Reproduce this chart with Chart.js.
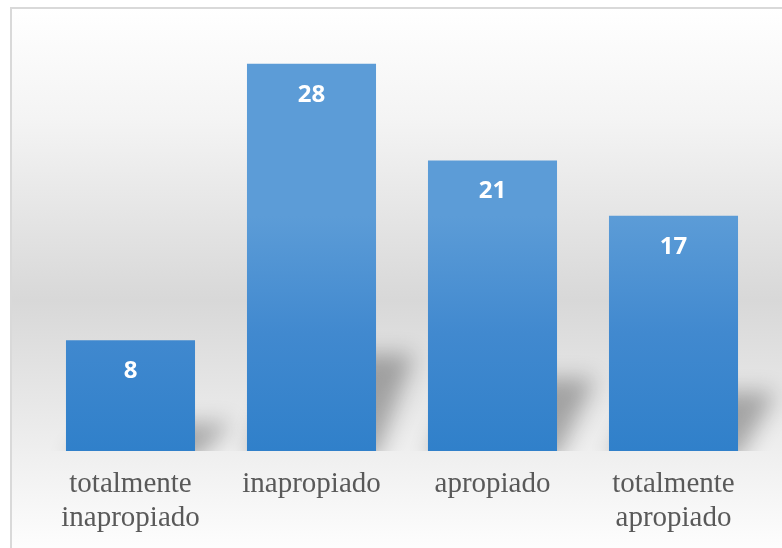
<!DOCTYPE html>
<html>
<head>
<meta charset="utf-8">
<script src="https://cdn.jsdelivr.net/npm/chart.js@4/dist/chart.umd.min.js"></script>
<style>
  html, body { margin: 0; padding: 0; background: #ffffff; }
  canvas { display: block; }
</style>
</head>
<body>
<canvas id="chart" width="782" height="548"></canvas>
<script>
// data
const categories = [
    ['totalmente', 'inapropiado'],
    'inapropiado',
    'apropiado',
    ['totalmente', 'apropiado']
];
const values = [8, 28, 21, 17];
const axisMax = 30;

// background box with grey band in the middle
const backgroundPlugin = {
    id: 'bgBox',
    beforeDraw(chart) {
        const ctx = chart.ctx;
        const g = ctx.createLinearGradient(0, 7, 0, 560);
        g.addColorStop(0, '#ffffff');
        g.addColorStop(0.2, '#f4f4f4');
        g.addColorStop(0.53, '#d8d8d8');
        g.addColorStop(0.83, '#f1f1f1');
        g.addColorStop(1, '#ffffff');
        ctx.save();
        ctx.fillStyle = '#ffffff';
        ctx.fillRect(0, 0, chart.width, chart.height);
        ctx.fillStyle = g;
        ctx.fillRect(11, 8, chart.width, chart.height);
        ctx.strokeStyle = '#d9d9d9';
        ctx.lineWidth = 2;
        ctx.strokeRect(11, 8, chart.width + 10, chart.height + 10);
        ctx.restore();
    }
};

// skewed soft shadow behind each bar + per-bar gradient fill
const shadowPlugin = {
    id: 'barShadow',
    beforeDatasetsDraw(chart) {
        const ctx = chart.ctx;
        const area = chart.chartArea;
        const bars = chart.getDatasetMeta(0).data;
        ctx.save();
        ctx.beginPath();
        ctx.rect(0, 0, chart.width, area.bottom);
        ctx.clip();
        const off = 5000;
        ctx.shadowColor = 'rgba(0,0,0,0.3)';
        ctx.shadowBlur = 22;
        ctx.shadowOffsetX = off;
        ctx.fillStyle = '#000000';
        bars.forEach(bar => {
            const h = bar.base - bar.y;
            const xl = bar.x - bar.width / 2 - off;
            const xr = bar.x + bar.width / 2 - off;
            const top = bar.base - h * 0.25;
            const dx = 38;
            ctx.beginPath();
            ctx.moveTo(xl, bar.base + 8);
            ctx.lineTo(xr, bar.base + 8);
            ctx.lineTo(xr + dx, top);
            ctx.lineTo(xl + dx, top);
            ctx.closePath();
            ctx.fill();
        });
        ctx.restore();

        bars.forEach(bar => {
            const g = ctx.createLinearGradient(0, bar.y, 0, bar.base);
            g.addColorStop(0, '#5c9cd7');
            g.addColorStop(0.5, '#4189cf');
            g.addColorStop(1, '#3080ca');
            bar.options.backgroundColor = g;
        });
    }
};

// value labels inside the bars
const valueLabels = {
    id: 'valueLabels',
    afterDatasetsDraw(chart) {
        const ctx = chart.ctx;
        ctx.save();
        ctx.fillStyle = '#ffffff';
        ctx.font = 'bold 24px "Open Sans", sans-serif';
        ctx.textAlign = 'center';
        ctx.textBaseline = 'middle';
        chart.getDatasetMeta(0).data.forEach((bar, i) => {
            ctx.fillText(String(values[i]), bar.x, bar.y + 31);
        });
        ctx.restore();
    }
};

new Chart(document.getElementById('chart').getContext('2d'), {
    type: 'bar',
    data: {
        labels: categories,
        datasets: [{
            data: values,
            backgroundColor: '#4a90d0',
            borderWidth: 0,
            categoryPercentage: 0.713,
            barPercentage: 1
        }]
    },
    options: {
        responsive: false,
        devicePixelRatio: 1,
        animation: false,
        layout: { padding: { left: 40, right: 18, top: 36, bottom: 0 } },
        plugins: {
            legend: { display: false },
            tooltip: { enabled: false }
        },
        scales: {
            y: {
                display: false,
                min: 0,
                max: axisMax,
                afterFit(axis) { axis.width = 0; }
            },
            x: {
                grid: { display: false, drawTicks: false },
                border: { display: false },
                ticks: {
                    color: '#595959',
                    padding: 17,
                    maxRotation: 0,
                    autoSkip: false,
                    font: { family: '"Liberation Serif", "Times New Roman", serif', size: 29, lineHeight: 1.15 }
                },
                afterFit(axis) { axis.height = 97; }
            }
        }
    },
    plugins: [backgroundPlugin, shadowPlugin, valueLabels]
});
</script>
</body>
</html>
